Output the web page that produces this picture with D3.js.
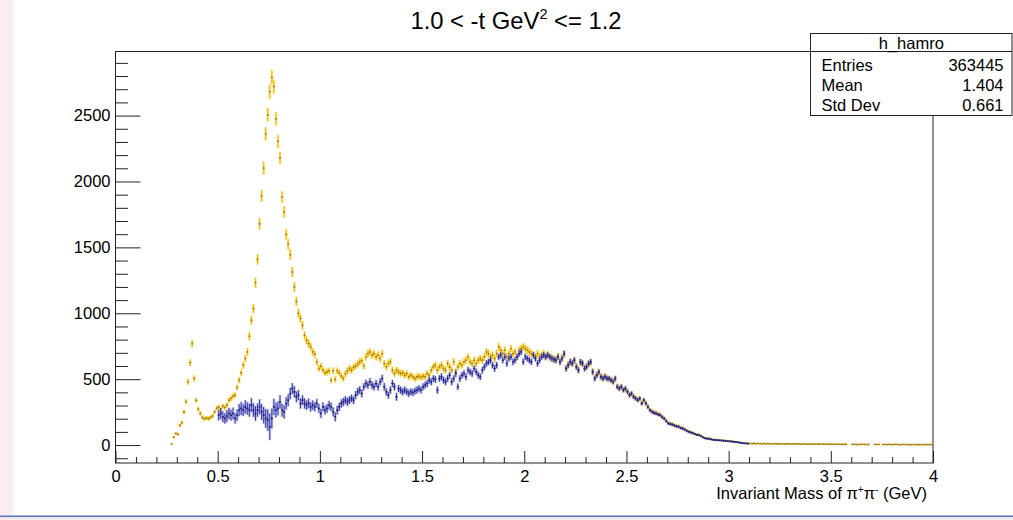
<!DOCTYPE html>
<html>
<head>
<meta charset="utf-8">
<script src="https://cdn.jsdelivr.net/npm/d3@7/dist/d3.min.js"></script>
<style>
  html, body { margin: 0; padding: 0; background: #f7edf2; }
  svg { display: block; }
  text { font-family: "Liberation Sans", Arial, Helvetica, sans-serif; fill: #000; }
</style>
</head>
<body>
<svg id="chart" width="1013" height="520"></svg>
<script>
// Histogram binning (GeV)
const binWidth = 0.01;
const yellowFirstBin = 27;   // first filled bin index (0.27 GeV)
const blueFirstBin = 50;     // first filled bin index (0.50 GeV)

// Counts per bin, all events
const yellowCounts = [
  8, 60, 88,
  82, 150, 170, 250, 330, 480, 625, 770, 505, 340,
  272, 240, 210, 200, 205, 200, 210, 220, 252, 280,
  288, 265, 295, 285, 303, 341, 354, 371, 379, 437,
  492, 548, 606, 657, 707, 826, 947, 1035, 1232, 1409,
  1679, 1891, 2101, 2361, 2505, 2682, 2790, 2720, 2475, 2305,
  2179, 1881, 1768, 1598, 1523, 1444, 1313, 1199, 1090, 1000,
  960, 909, 833, 795, 770, 745, 707, 689, 631, 581,
  598, 568, 548, 555, 563, 492, 563, 498, 563, 548,
  523, 505, 540, 563, 581, 568, 590, 600, 615, 631,
  640, 600, 669, 694, 707, 682, 694, 669, 682, 656,
  694, 619, 593, 619, 631, 568, 543, 568, 555, 543,
  548, 530, 543, 518, 530, 518, 505, 518, 523, 513,
  523, 518, 543, 530, 568, 593, 606, 568, 593, 606,
  581, 568, 619, 593, 568, 631, 555, 593, 619, 606,
  631, 644, 669, 631, 619, 644, 619, 644, 656, 644,
  669, 707, 694, 669, 682, 656, 694, 745, 720, 694,
  720, 669, 694, 732, 694, 707, 669, 720, 732, 745,
  732, 720, 707, 694, 682, 669, 694, 669, 682, 694,
  672, 685, 666, 660, 652, 648, 672, 634, 660, 690,
  585, 610, 628, 622, 640, 596, 572, 628, 622, 585,
  596, 616, 628, 558, 510, 533, 552, 520, 508, 520,
  508, 502, 495, 483, 500, 445, 432, 440, 420, 426,
  407, 382, 388, 369, 357, 344, 351, 320, 338, 319,
  293, 268, 256, 248, 243, 235, 230, 215, 203, 185,
  168, 162, 158, 150, 145, 142, 132, 128, 120, 110,
  104, 97, 92, 85, 80, 78, 70, 60, 54, 50,
  49, 45, 42, 40, 39, 37, 36, 34, 33, 31,
  30, 28, 27, 24, 22, 20, 18, 15, 14, 13,
  12, 11, 13, 10, 12, 11, 10, 12, 9, 11,
  10, 9, 11, 8, 10, 9, 10, 8, 9, 10,
  8, 9, 10, 9, 8, 7, 9, 8, 7, 8,
  7, 8, 6, 7, 8, 6, 7, 6, 7, 6,
  6, 5, 6, 7, 5, 6, 5, 6, 0, 0,
  5, 6, 5, 4, 5, 6, 5, 4, 5, 0,
  0, 5, 4, 5, 0, 4, 5, 4, 5, 4,
  4, 5, 4, 3, 4, 5, 4, 3, 4, 3,
  4, 3, 4, 3, 4, 3, 4, 3, 4, 3
];
const yellowErrors = [
  3, 8, 9,
  9, 12, 13, 16, 18, 22, 25, 28, 22, 18,
  16, 15, 14, 14, 14, 14, 14, 15, 16, 17,
  17, 16, 17, 17, 17, 18, 19, 19, 19, 21,
  22, 23, 25, 26, 27, 29, 31, 32, 35, 38,
  41, 43, 46, 49, 50, 52, 53, 52, 50, 48,
  47, 43, 42, 40, 39, 38, 36, 35, 33, 32,
  31, 30, 29, 28, 28, 27, 27, 26, 25, 24,
  24, 24, 23, 24, 24, 22, 24, 22, 24, 23,
  23, 22, 23, 24, 24, 24, 24, 24, 25, 25,
  25, 24, 26, 26, 27, 26, 26, 26, 26, 26,
  26, 25, 24, 25, 25, 24, 23, 24, 24, 23,
  23, 23, 23, 23, 23, 23, 22, 23, 23, 23,
  23, 23, 23, 23, 24, 24, 25, 24, 24, 25,
  24, 24, 25, 24, 24, 25, 24, 24, 25, 25,
  25, 25, 26, 25, 25, 25, 25, 25, 26, 25,
  26, 27, 26, 26, 26, 26, 26, 27, 27, 26,
  27, 26, 26, 27, 26, 27, 26, 27, 27, 27,
  27, 27, 27, 26, 26, 26, 26, 26, 26, 26,
  26, 26, 26, 26, 26, 25, 26, 25, 26, 26,
  24, 25, 25, 25, 25, 24, 24, 25, 25, 24,
  24, 25, 25, 24, 23, 23, 23, 23, 23, 23,
  23, 22, 22, 22, 22, 21, 21, 21, 20, 21,
  20, 20, 20, 19, 19, 19, 19, 18, 18, 18,
  17, 16, 16, 16, 16, 15, 15, 15, 14, 14,
  13, 13, 13, 12, 12, 12, 11, 11, 11, 10,
  10, 10, 10, 9, 9, 9, 8, 8, 7, 7,
  7, 7, 6, 6, 6, 6, 6, 6, 6, 6,
  5, 5, 5, 5, 5, 4, 4, 4, 4, 4,
  3, 3, 4, 3, 3, 3, 3, 3, 3, 3,
  3, 3, 3, 3, 3, 3, 3, 3, 3, 3,
  3, 3, 3, 3, 3, 3, 3, 3, 3, 3,
  3, 3, 2, 3, 3, 2, 3, 2, 3, 2,
  2, 2, 2, 3, 2, 2, 2, 2, 0, 0,
  2, 2, 2, 2, 2, 2, 2, 2, 2, 0,
  0, 2, 2, 2, 0, 2, 2, 2, 2, 2,
  2, 2, 2, 2, 2, 2, 2, 2, 2, 2,
  2, 2, 2, 2, 2, 2, 2, 2, 2, 2
];

// Counts per bin, selected subset
const blueCounts = [
  227, 240, 215, 202, 220, 240, 227, 240, 202, 227,
  265, 278, 265, 290, 278, 265, 303, 265, 240, 265,
  290, 252, 227, 202, 189, 139, 202, 290, 265, 278,
  328, 265, 252, 316, 341, 391, 429, 404, 366, 379,
  316, 341, 316, 303, 316, 290, 303, 290, 316, 278,
  240, 290, 265, 278, 303, 290, 252, 215, 265, 290,
  316, 328, 341, 328, 341, 354, 341, 379, 404, 417,
  392, 442, 467, 455, 480, 455, 442, 467, 442, 480,
  505, 442, 404, 379, 417, 467, 442, 366, 429, 417,
  404, 417, 404, 392, 404, 398, 410, 417, 429, 417,
  442, 455, 467, 492, 480, 505, 498, 417, 505, 518,
  492, 480, 505, 530, 480, 505, 543, 442, 505, 530,
  543, 518, 568, 555, 543, 581, 555, 530, 518, 568,
  593, 619, 631, 644, 606, 581, 606, 669, 682, 644,
  669, 619, 657, 669, 631, 644, 669, 694, 707, 631,
  669, 657, 644, 631, 682, 657, 619, 644, 669, 682,
  669, 682, 669, 657, 649, 644, 669, 631, 657, 694,
  581, 606, 631, 619, 644, 593, 568, 631, 619, 581,
  593, 619, 631, 555, 505, 530, 555, 518, 505, 518,
  505, 505, 492, 480, 505, 442, 429, 442, 417, 429,
  404, 379, 391, 366, 354, 341, 354, 316, 341, 316,
  290, 265, 252, 245, 240, 232, 227, 212, 200, 182,
  164, 160, 155, 148, 142, 139, 130, 125, 118, 108,
  101, 95, 90, 83, 78, 76, 68, 58, 51, 49,
  48, 43, 40, 38, 37, 36, 35, 33, 32, 30,
  28, 27, 25, 23, 21, 18, 16, 13, 12, 11
];
const blueErrors = [
  38, 42, 40, 38, 45, 42, 40, 44, 38, 42,
  45, 48, 44, 50, 46, 48, 52, 50, 55, 50,
  55, 60, 62, 70, 80, 100, 75, 60, 55, 52,
  50, 48, 50, 45, 44, 42, 40, 42, 40, 38,
  38, 36, 38, 35, 36, 34, 35, 34, 33, 34,
  34, 33, 32, 33, 32, 31, 33, 34, 32, 31,
  30, 30, 29, 30, 29, 28, 28, 29, 28, 28,
  28, 27, 28, 27, 27, 28, 27, 26, 27, 26,
  27, 28, 27, 26, 27, 26, 27, 28, 26, 27,
  26, 26, 25, 26, 25, 26, 25, 26, 25, 25,
  25, 25, 26, 25, 25, 24, 25, 26, 24, 25,
  25, 24, 25, 24, 25, 24, 26, 24, 25, 24,
  24, 25, 24, 24, 25, 24, 24, 25, 24, 24,
  24, 24, 23, 24, 23, 24, 24, 23, 24, 23,
  23, 24, 23, 23, 24, 23, 23, 24, 23, 23,
  23, 22, 23, 22, 23, 22, 23, 22, 22, 23,
  22, 22, 21, 22, 21, 22, 21, 22, 21, 22,
  21, 21, 22, 21, 21, 20, 21, 21, 20, 21,
  20, 21, 20, 20, 19, 20, 20, 19, 19, 20,
  19, 19, 18, 18, 19, 17, 17, 17, 16, 16,
  16, 15, 15, 15, 14, 14, 14, 13, 14, 13,
  13, 12, 12, 12, 12, 11, 11, 11, 10, 10,
  10, 9, 9, 9, 9, 9, 8, 8, 8, 8,
  7, 7, 7, 7, 6, 6, 6, 6, 5, 5,
  5, 5, 5, 5, 5, 5, 4, 4, 4, 4,
  4, 4, 4, 4, 3, 3, 3, 3, 3, 3
];

// Axis ticks and texts
const xMajorTicks = [0, 0.5, 1, 1.5, 2, 2.5, 3, 3.5, 4];
const xMinorTicks = d3.range(1, 40).map(i => i / 10);
const yMajorTicks = [0, 500, 1000, 1500, 2000, 2500];
const yMinorTicks = d3.range(-1, 30).map(i => i * 100);
const statsTitle = "h_hamro";
const statsLabels = ["Entries", "Mean", "Std Dev"];
const statsValues = ["363445", "1.404", "0.661"];

const svg = d3.select("#chart");

// Canvas: pink window margin with a white pad
svg.append("rect").attr("x", 0).attr("y", 0).attr("width", 1013).attr("height", 520).attr("fill", "#f7edf2");
svg.append("rect").attr("x", 13).attr("y", 0).attr("width", 1000).attr("height", 515).attr("fill", "#ffffff");
svg.append("rect").attr("x", 0).attr("y", 515.5).attr("width", 1013).attr("height", 1.6).attr("fill", "#5c78b6");

const frame = { left: 115.5, right: 933, top: 51, bottom: 463 };
const x = d3.scaleLinear().domain([0, 4]).range([frame.left, frame.right]);
const y = d3.scaleLinear().domain([-136, 2990]).range([frame.bottom, frame.top]);

// Axes
const axisColor = "#222";
const fontSize = 16.5;

svg.append("g").attr("transform", `translate(0,${frame.bottom})`)
  .call(d3.axisBottom(x).tickValues(xMajorTicks).tickSizeInner(-12).tickSizeOuter(0).tickPadding(7)
    .tickFormat(d3.format("")));
svg.append("g").attr("transform", `translate(0,${frame.bottom})`)
  .call(d3.axisBottom(x).tickValues(xMinorTicks.filter(v => Math.abs(v * 2 - Math.round(v * 2)) > 1e-6))
    .tickSizeInner(-6).tickSizeOuter(0).tickFormat(""));

svg.append("g").attr("transform", `translate(${frame.left},0)`)
  .call(d3.axisLeft(y).tickValues(yMajorTicks).tickSizeInner(-25).tickSizeOuter(0).tickPadding(5)
    .tickFormat(d3.format("d")));
svg.append("g").attr("transform", `translate(${frame.left},0)`)
  .call(d3.axisLeft(y).tickValues(yMinorTicks.filter(v => v % 500 !== 0))
    .tickSizeInner(-12.5).tickSizeOuter(0).tickFormat(""));

svg.selectAll(".domain").remove();
svg.selectAll(".tick line").attr("stroke", axisColor).attr("stroke-width", 1);
svg.selectAll(".tick text").attr("font-size", fontSize)
  .attr("font-family", '"Liberation Sans", Arial, sans-serif').attr("fill", "#000");

// Plot frame
svg.append("rect")
  .attr("x", frame.left).attr("y", frame.top + 0.5)
  .attr("width", frame.right - frame.left).attr("height", frame.bottom - frame.top - 0.5)
  .attr("fill", "none").attr("stroke", axisColor).attr("stroke-width", 1);

// Error-bar histograms
svg.append("clipPath").attr("id", "plotClip").append("rect")
  .attr("x", frame.left).attr("y", frame.top).attr("width", frame.right - frame.left).attr("height", frame.bottom - frame.top);
const plot = svg.append("g").attr("clip-path", "url(#plotClip)");

function binsFrom(counts, errors, firstBin) {
  return counts.map((v, i) => ({
    lo: (firstBin + i) * binWidth,
    hi: (firstBin + i + 1) * binWidth,
    c: (firstBin + i + 0.5) * binWidth,
    v: v,
    e: errors[i]
  })).filter(d => d.v > 0);
}

function drawErrorHist(bins, style) {
  const g = plot.append("g");
  g.selectAll("line.halo").data(bins).join("line")
    .attr("x1", d => x(d.c)).attr("x2", d => x(d.c))
    .attr("y1", d => y(d.v - d.e) + 0.5).attr("y2", d => y(d.v + d.e) - 0.5)
    .attr("stroke", style.halo).attr("stroke-width", 2.8).attr("stroke-opacity", style.haloOpacity);
  g.selectAll("line.vert").data(bins).join("line")
    .attr("x1", d => x(d.c)).attr("x2", d => x(d.c))
    .attr("y1", d => y(d.v - d.e)).attr("y2", d => y(d.v + d.e))
    .attr("stroke", style.core).attr("stroke-width", 1);
  g.selectAll("line.horiz").data(bins).join("line")
    .attr("x1", d => x(d.lo)).attr("x2", d => x(d.hi))
    .attr("y1", d => y(d.v)).attr("y2", d => y(d.v))
    .attr("stroke", style.core).attr("stroke-width", 1);
  g.selectAll("rect.marker").data(bins).join("rect")
    .attr("x", d => x(d.c) - 0.8).attr("y", d => y(d.v) - 0.8)
    .attr("width", 1.6).attr("height", 1.6)
    .attr("fill", style.marker).attr("fill-opacity", style.markerOpacity);
}

drawErrorHist(binsFrom(yellowCounts, yellowErrors, yellowFirstBin),
  { core: "#f2b600", halo: "#ffd54a", haloOpacity: 0.55, marker: "#6e5c1a", markerOpacity: 0.7 });
drawErrorHist(binsFrom(blueCounts, blueErrors, blueFirstBin),
  { core: "#3636a8", halo: "#8c8cd4", haloOpacity: 0.45, marker: "#1c1c70", markerOpacity: 0.9 });

// Title
const title = svg.append("text").attr("x", 516).attr("y", 28.5).attr("text-anchor", "middle")
  .attr("font-size", 23.8);
title.append("tspan").text("1.0 < -t GeV");
title.append("tspan").attr("font-size", 14.5).attr("dy", -9.5).text("2");
title.append("tspan").attr("dy", 9.5).text(" <= 1.2");

// X axis title
const xTitle = svg.append("text").attr("x", 927).attr("y", 498.5).attr("text-anchor", "end")
  .attr("font-size", fontSize);
xTitle.append("tspan").text("Invariant Mass of \u03C0");
xTitle.append("tspan").attr("font-size", 10).attr("dy", -6).text("+");
xTitle.append("tspan").attr("dy", 6).text("\u03C0");
xTitle.append("tspan").attr("font-size", 10).attr("dy", -6).text("-");
xTitle.append("tspan").attr("dy", 6).text(" (GeV)");

// Statistics box
const stats = { left: 810.5, right: 1012, top: 33.5, bottom: 115.5, header: 51.5 };
const sb = svg.append("g");
sb.append("rect").attr("x", stats.left).attr("y", stats.top)
  .attr("width", stats.right - stats.left).attr("height", stats.bottom - stats.top)
  .attr("fill", "#fff").attr("stroke", axisColor).attr("stroke-width", 1);
sb.append("line").attr("x1", stats.left).attr("x2", stats.right)
  .attr("y1", stats.header).attr("y2", stats.header).attr("stroke", axisColor);
sb.append("text").attr("x", (stats.left + stats.right) / 2).attr("y", 48.5)
  .attr("text-anchor", "middle").attr("font-size", fontSize).text(statsTitle);
statsLabels.forEach((label, i) => {
  const yy = 70.5 + i * 20.3;
  sb.append("text").attr("x", 821.5).attr("y", yy).attr("font-size", fontSize).text(label);
  sb.append("text").attr("x", 1003.5).attr("y", yy).attr("text-anchor", "end")
    .attr("font-size", fontSize).text(statsValues[i]);
});
</script>
</body>
</html>
